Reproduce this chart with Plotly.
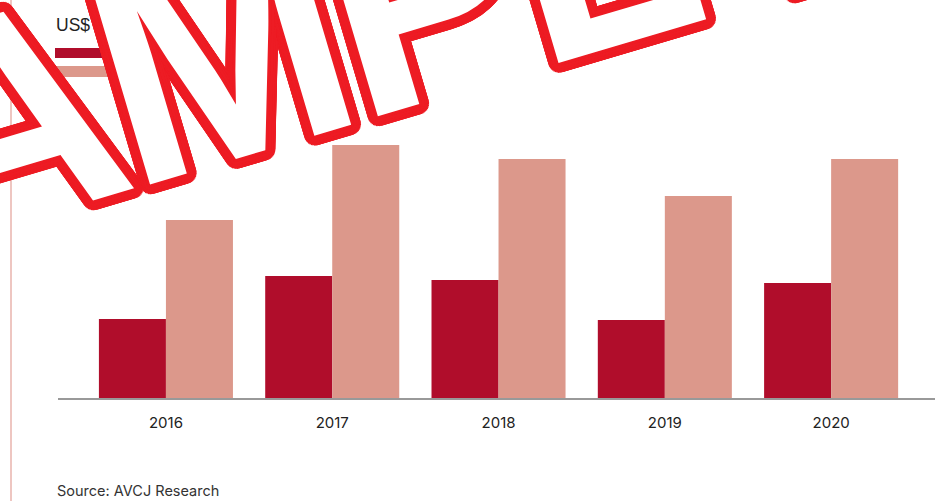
import math
import plotly.graph_objects as go

# ---- data ----
years = ["2016", "2017", "2018", "2019", "2020"]
series_a = [7.9, 12.2, 11.8, 7.8, 11.5]      # dark red bars
series_b = [17.8, 25.3, 23.9, 20.2, 23.9]    # light salmon bars
unit_label = "US$"
source_text = "Source: AVCJ Research"
watermark = "SAMPLE"

DARK = "#B00D2B"
LIGHT = "#DC988B"
WM_RED = "#ED1C24"

W, H = 936, 501
L, R, T, B = 58, 1, 100, 103
PW, PH = W - L - R, H - T - B


def px(x):
    return (x - L) / PW


def py(y):
    return (H - B - y) / PH


fig = go.Figure()
fig.add_trace(go.Bar(x=years, y=series_a, marker=dict(color=DARK, line=dict(width=0)),
                     name="a", showlegend=False, hoverinfo="skip"))
fig.add_trace(go.Bar(x=years, y=series_b, marker=dict(color=LIGHT, line=dict(width=0)),
                     name="b", showlegend=False, hoverinfo="skip"))

# ---- watermark: white letters with a red outline built from text-shadows ----
shadows = []
for r in (3, 6, 8, 10):
    n = 40 if r >= 8 else 20
    for k in range(n):
        a = 2 * math.pi * k / n
        shadows.append(f"{r*math.cos(a):.1f}px {r*math.sin(a):.1f}px 0 {WM_RED}")
shadow = ", ".join(shadows)

WM_SIZE = 300
WM_ANGLE = 16.5
WM_TRACK = -12
WM_ADV = {"S": 0.667, "A": 0.722, "M": 0.833, "P": 0.667, "L": 0.611, "E": 0.667}
WM_EXTRA = {"E": 75}
WM_ORIGIN = (148, 172)
WM_M_START = -22
ua = math.radians(WM_ANGLE)
u = (math.cos(ua), -math.sin(ua))
v = (-math.sin(ua), -math.cos(ua))
mid_up = 0.3465 * WM_SIZE - 12

starts = []
m_idx = watermark.index("M")
pos = WM_M_START
for i in range(m_idx, len(watermark)):
    pos += WM_EXTRA.get(watermark[i], 0)
    starts.append((i, pos))
    pos += WM_ADV[watermark[i]] * WM_SIZE + WM_TRACK
pos = WM_M_START
for i in range(m_idx - 1, -1, -1):
    pos -= WM_ADV[watermark[i]] * WM_SIZE + WM_TRACK
    starts.append((i, pos))

wm_annotations = []
for i, s0 in sorted(starts):
    ch = watermark[i]
    sc = s0 + WM_ADV[ch] * WM_SIZE / 2
    cx = WM_ORIGIN[0] + sc * u[0] + mid_up * v[0]
    cy = WM_ORIGIN[1] + sc * u[1] + mid_up * v[1]
    wm_annotations.append(dict(
        text=ch, xref="paper", yref="paper", x=px(cx), y=py(cy), xanchor="center",
        yanchor="middle", showarrow=False, textangle=-WM_ANGLE,
        font=dict(family="Liberation Sans, Arial, sans-serif", size=WM_SIZE, color="#FFFFFF",
                  weight="bold", shadow=shadow)))

shapes = [
    # legend swatches (their labels sit under the watermark)
    dict(type="rect", xref="paper", yref="paper", x0=px(55), x1=px(118), y0=py(58), y1=py(48),
         fillcolor=DARK, line=dict(width=0), layer="above"),
    dict(type="rect", xref="paper", yref="paper", x0=px(55), x1=px(118), y0=py(77), y1=py(66),
         fillcolor=LIGHT, line=dict(width=0), layer="above"),
    # thin left rule
    dict(type="line", xref="paper", yref="paper", x0=px(11), x1=px(11), y0=py(0), y1=py(501),
         line=dict(color="#E9B3AC", width=1.5), layer="above"),
]

annotations = [
    dict(text=unit_label, xref="paper", yref="paper", x=px(54), y=py(25), xanchor="left",
         yanchor="middle", showarrow=False,
         font=dict(family="Liberation Sans, Arial, sans-serif", size=17.5, color="#222222")),
    dict(text=source_text, xref="paper", yref="paper", x=px(55), y=py(490), xanchor="left",
         yanchor="middle", showarrow=False,
         font=dict(family="Inter, sans-serif", size=14.5, color="#333333")),
] + wm_annotations

fig.update_layout(
    width=W, height=H,
    margin=dict(l=L, r=R, t=T, b=B, pad=0),
    paper_bgcolor="white", plot_bgcolor="white",
    barmode="group", bargap=0.194, bargroupgap=0,
    xaxis=dict(type="category", range=[-0.649, -0.649 + PW / 166.3], showline=True,
               linecolor="#999999", linewidth=2, showgrid=False, zeroline=False, ticks="",
               tickfont=dict(family="Inter, sans-serif", size=15, color="#222222"),
               ticklabelstandoff=10),
    yaxis=dict(range=[0, PH / 10], visible=False, showgrid=False, zeroline=False),
    shapes=shapes,
    annotations=annotations,
)

fig.write_html("out.html")
